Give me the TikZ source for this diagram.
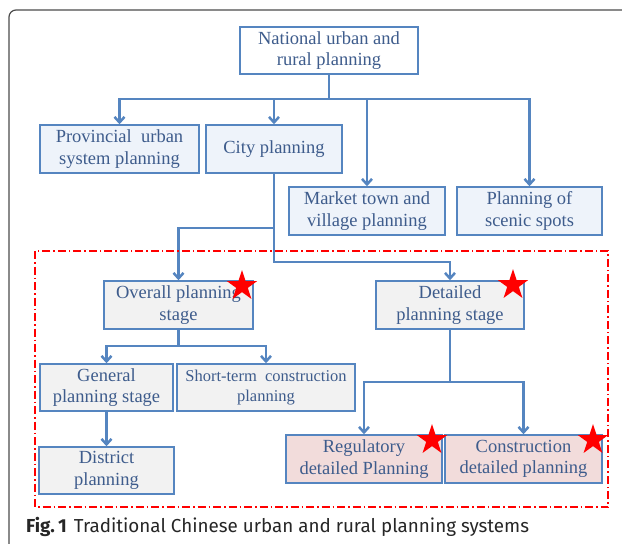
\documentclass[tikz,border=0pt]{standalone}
\usepackage{fontspec}
\setmainfont{Liberation Serif}
\newfontfamily\capfont{Fira Sans}
\usetikzlibrary{arrows.meta,shapes.geometric}
\definecolor{planblue}{RGB}{85,133,192}
\definecolor{plantext}{RGB}{62,92,140}
\definecolor{upperfill}{RGB}{238,243,250}
\definecolor{stagefill}{RGB}{242,242,242}
\definecolor{detailfill}{RGB}{242,220,219}
\tikzset{%
   planbox/.style={draw=planblue, line width=1.5pt, text=plantext, align=center,
      inner sep=0pt, font=\fontsize{18.5}{21.5}\selectfont},%
   upperbox/.style={planbox, fill=upperfill},%
   stagebox/.style={planbox, fill=stagefill},%
   detailbox/.style={planbox, fill=detailfill},%
   link/.style={draw=planblue, line width=2.5pt},%
   arrowlink/.style={link, -{Straight Barb[length=5.5pt,width=10pt]}},%
   redstar/.style={star, star points=5, star point ratio=2.618, fill=red,
      inner sep=0pt, minimum size=32pt},%
}
\begin{document}
\begin{tikzpicture}[x=1pt,y=-1pt]%
      \clip (0,0) rectangle (622,544);%
      \fill[white] (0,0) rectangle (622,544);%
      % ~ frame
      \draw[black!70, line width=1.2pt, rounded corners=7pt] (640,10) -- (9,10) -- (9,560);%
      % ~ upper level
      \node[planbox, fill=white, minimum width=178pt, minimum height=47pt] (national) at (329,50.5) {National urban and\\rural planning};
      \node[upperbox, minimum width=159pt, minimum height=48pt] (provincial) at (119.5,149) {Provincial~ urban\\system planning};
      \node[upperbox, minimum width=136pt, minimum height=48pt] (city) at (274,149) {City planning};
      \node[upperbox, minimum width=156pt, minimum height=48pt] (market) at (367,211) {Market town and\\village planning};
      \node[upperbox, minimum width=145pt, minimum height=48pt] (scenic) at (529.5,211) {Planning of\\scenic spots};
      % ~ stages
      \node[stagebox, minimum width=149pt, minimum height=48pt] (overall) at (178.5,305) {Overall planning\\stage};
      \node[stagebox, minimum width=148pt, minimum height=48pt] (detailed) at (450,305) {Detailed\\planning stage};
      \node[stagebox, minimum width=133pt, minimum height=47pt] (general) at (106.5,387.5) {General\\planning stage};
      \node[stagebox, minimum width=178pt, minimum height=47pt, font=\fontsize{16.5}{20}\selectfont] (shortterm) at (266,387.5) {Short-term~ construction\\planning};
      \node[stagebox, minimum width=135pt, minimum height=47pt] (district) at (106.5,470.5) {District\\planning};
      \node[detailbox, minimum width=156pt, minimum height=48pt] (regulatory) at (364,459) {Regulatory\\detailed Planning};
      \node[detailbox, minimum width=157pt, minimum height=48pt] (construction) at (523.5,459) {Construction\\detailed planning};
      % ~ connectors
      \coordinate (nationalbus) at (329,99);%
      \draw[link] (national) -- (nationalbus);%
      \foreach \to in {provincial,city,market,scenic}%
         {%
            \draw[arrowlink] (nationalbus) -| (\to.north);%
         }%
      \draw[arrowlink] (city.south) |- (overall.north |- 0,228) -- (overall.north);%
      \draw[arrowlink] (city.south) |- (detailed.north |- 0,262) -- (detailed.north);%
      \foreach \to in {general,shortterm}%
         {%
            \draw[arrowlink] (overall.south) |- (\to.north |- 0,346) -- (\to.north);%
         }%
      \draw[arrowlink] (general) -- (district);%
      \foreach \to in {regulatory,construction}%
         {%
            \draw[arrowlink] (detailed.south) |- (\to.north |- 0,382) -- (\to.north);%
         }%
      % ~ detailed system region
      \draw[red, line width=1.3pt, dash pattern=on 8pt off 3pt on 1.5pt off 3pt] (35,251) rectangle (608,507);%
      % ~ stars
      \node[redstar] (staroverall) at (242,286) {};
      \node[redstar] (stardetailed) at (513,285) {};
      \node[redstar] (starregulatory) at (432,440) {};
      \node[redstar] (starconstruction) at (593,440) {};
      % ~ caption
      \node[anchor=west, inner sep=0pt, font=\capfont\fontsize{18.8}{22}\selectfont, text=black!85] (caption) at (26,527) {\textbf{Fig.\,1}\hspace{7pt}Traditional Chinese urban and rural planning systems};
         %
   \end{tikzpicture}
\end{document}
